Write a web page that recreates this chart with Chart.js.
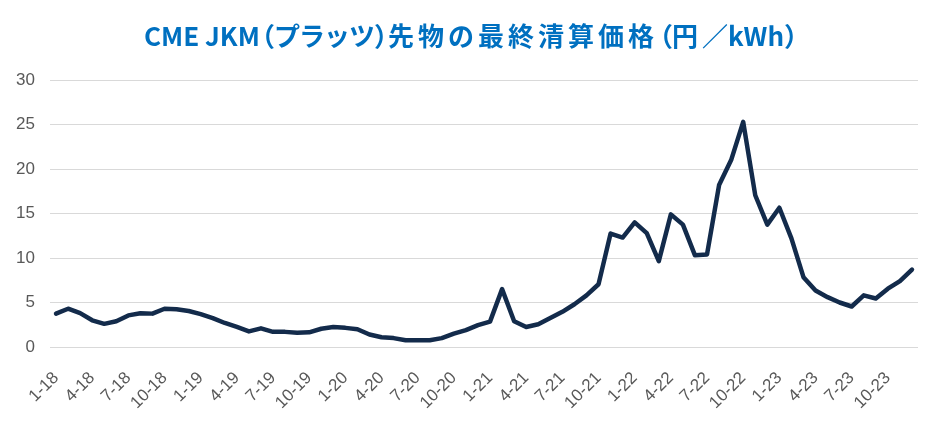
<!DOCTYPE html>
<html>
<head>
<meta charset="utf-8">
<script src="https://cdn.jsdelivr.net/npm/chart.js@4.4.1/dist/chart.umd.min.js"></script>
<style>
  html, body { margin: 0; padding: 0; background: #fff; }
  #wrap { width: 948px; height: 421px; position: relative; }
</style>
</head>
<body>
<div id="wrap"><canvas id="grafico"></canvas></div>
<script>
// meses (mes-año)
const meses = [
  '1-18','2-18','3-18','4-18','5-18','6-18','7-18','8-18','9-18','10-18','11-18','12-18',
  '1-19','2-19','3-19','4-19','5-19','6-19','7-19','8-19','9-19','10-19','11-19','12-19',
  '1-20','2-20','3-20','4-20','5-20','6-20','7-20','8-20','9-20','10-20','11-20','12-20',
  '1-21','2-21','3-21','4-21','5-21','6-21','7-21','8-21','9-21','10-21','11-21','12-21',
  '1-22','2-22','3-22','4-22','5-22','6-22','7-22','8-22','9-22','10-22','11-22','12-22',
  '1-23','2-23','3-23','4-23','5-23','6-23','7-23','8-23','9-23','10-23','11-23','12-23'
];

// precio de liquidación final (円/kWh)
const precios = [
  3.75, 4.3, 3.8, 3.0, 2.6, 2.9, 3.55, 3.8, 3.75, 4.3, 4.25, 4.05,
  3.7, 3.25, 2.7, 2.25, 1.75, 2.1, 1.7, 1.7, 1.6, 1.65, 2.05, 2.25,
  2.15, 2.0, 1.4, 1.1, 1.0, 0.75, 0.75, 0.75, 1.0, 1.5, 1.9, 2.45,
  2.85, 6.5, 2.9, 2.25, 2.55, 3.25, 3.95, 4.8, 5.8, 7.05, 12.75, 12.3,
  14.0, 12.8, 9.65, 14.9, 13.75, 10.3, 10.4, 18.2, 21.0, 25.3, 17.05, 13.75,
  15.65, 12.2, 7.85, 6.35, 5.6, 5.0, 4.55, 5.8, 5.45, 6.55, 7.4, 8.7
];

// etiquetas visibles cada 3 meses
const etiquetas = ['1-18','4-18','7-18','10-18','1-19','4-19','7-19','10-19',
  '1-20','4-20','7-20','10-20','1-21','4-21','7-21','10-21',
  '1-22','4-22','7-22','10-22','1-23','4-23','7-23','10-23'];

const ticksY = [0, 5, 10, 15, 20, 25, 30];

const titulo = 'CME JKM（プラッツ）先物の最終清算価格（円／kWh）';

const gris = '#595959';

// Título dibujado a mano: paréntesis estrechos y algo de espacio entre kanji
const pluginTitulo = {
  id: 'titulo',
  afterDraw(chart) {
    const ctx = chart.ctx;
    ctx.save();
    ctx.font = 'bold 26px "Noto Sans CJK JP"';
    ctx.fillStyle = '#0070c0';
    ctx.textBaseline = 'middle';
    const chars = Array.from(titulo);
    const avance = ch => {
      if (ch === '（' || ch === '）') return 14;
      if (/[\u30a0-\u30ff]/.test(ch)) return ctx.measureText(ch).width - 1;
      if (/[\u4e00-\u9fff\u3040-\u309f]/.test(ch)) return ctx.measureText(ch).width + 4;
      return ctx.measureText(ch).width;
    };
    const total = chars.reduce((s, ch) => s + avance(ch), 0);
    let x = (chart.width - total) / 2 - 3;
    const y = 36;
    chars.forEach(ch => {
      if (ch === '（') ctx.fillText(ch, x - 11, y);
      else ctx.fillText(ch, x, y);
      x += avance(ch);
    });
    ctx.restore();
  }
};

new Chart(document.getElementById('grafico'), {
  type: 'line',
  data: {
    labels: meses,
    datasets: [{
      label: 'JKM',
      data: precios,
      borderColor: '#132b4b',
      borderWidth: 4.5,
      pointRadius: 0,
      tension: 0,
      borderJoinStyle: 'round',
      borderCapStyle: 'round'
    }]
  },
  options: {
    responsive: true,
    maintainAspectRatio: false,
    animation: false,
    layout: { padding: { left: 0, right: 30, top: 80, bottom: 0 } },
    plugins: {
      legend: { display: false },
      tooltip: { enabled: false },
      title: { display: false }
    },
    scales: {
      x: {
        offset: true,
        grid: { display: false, drawTicks: false },
        border: { display: false },
        ticks: {
          autoSkip: false,
          maxRotation: 45,
          minRotation: 45,
          color: gris,
          padding: 21,
          font: { family: '"Liberation Sans"', size: 17 },
          callback: function (v, i) {
            const m = meses[i];
            return etiquetas.includes(m) ? m : '';
          }
        },
        afterFit: function (axis) { axis.height = 74; }
      },
      y: {
        min: 0,
        max: 30,
        afterBuildTicks: function (axis) {
          axis.ticks = ticksY.map(v => ({ value: v }));
        },
        grid: { color: '#d9d9d9', lineWidth: 1, drawTicks: false },
        border: { display: false },
        ticks: {
          color: gris,
          padding: 15,
          font: { family: '"Liberation Sans"', size: 17 }
        },
        afterFit: function (axis) { axis.width = 50; }
      }
    }
  },
  plugins: [pluginTitulo]
});
</script>
</body>
</html>
